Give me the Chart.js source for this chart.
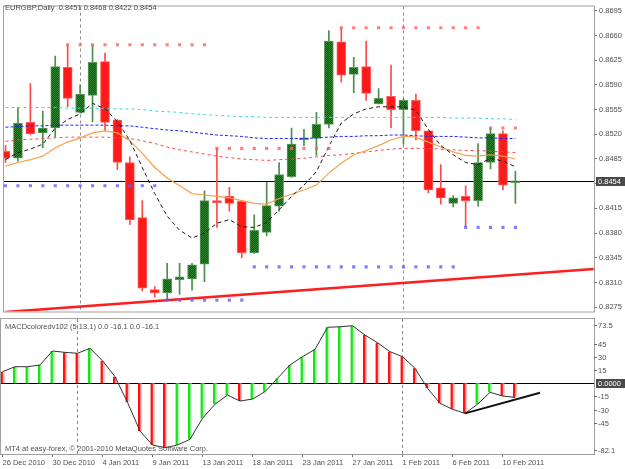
<!DOCTYPE html>
<html>
<head>
<meta charset="utf-8">
<title>EURGBP Daily</title>
<script src="https://cdn.jsdelivr.net/npm/chart.js@4.4.1/dist/chart.umd.min.js"></script>
<style>
    body { margin: 0; background: #fff; }
    #wrap { position: relative; width: 625px; height: 469px; overflow: hidden; background: #fff; }
    #wrap canvas { position: absolute; left: 0; }
    #priceChart { top: 0; }
    #macdChart { top: 318px; }
</style>
</head>
<body>
<div id="wrap">
    <canvas id="priceChart" width="625" height="318"></canvas>
    <canvas id="macdChart" width="625" height="151"></canvas>
</div>
<script>
var symbol = 'EURGBP';
var period = 'Daily';

var dates = [
    '26 Dec 2010', '27 Dec 2010', '28 Dec 2010', '29 Dec 2010', '30 Dec 2010', '31 Dec 2010',
    '2 Jan 2011', '3 Jan 2011', '4 Jan 2011', '5 Jan 2011', '6 Jan 2011', '7 Jan 2011',
    '9 Jan 2011', '10 Jan 2011', '11 Jan 2011', '12 Jan 2011', '13 Jan 2011', '14 Jan 2011',
    '16 Jan 2011', '17 Jan 2011', '18 Jan 2011', '19 Jan 2011', '20 Jan 2011', '21 Jan 2011',
    '23 Jan 2011', '24 Jan 2011', '25 Jan 2011', '26 Jan 2011', '27 Jan 2011', '28 Jan 2011',
    '30 Jan 2011', '31 Jan 2011', '1 Feb 2011', '2 Feb 2011', '3 Feb 2011', '4 Feb 2011',
    '6 Feb 2011', '7 Feb 2011', '8 Feb 2011', '9 Feb 2011', '10 Feb 2011', '11 Feb 2011'
];

var opens  = [0.8496, 0.8486, 0.8537, 0.8522, 0.8529, 0.8615, 0.8551, 0.8575, 0.8623, 0.8540, 0.8480, 0.8402, 0.8300, 0.8295, 0.8314, 0.8315, 0.8336, 0.8426, 0.8432, 0.8425, 0.8352, 0.8381, 0.8418, 0.8460, 0.8512, 0.8514, 0.8534, 0.8651, 0.8605, 0.8616, 0.8563, 0.8574, 0.8555, 0.8568, 0.8525, 0.8444, 0.8422, 0.8432, 0.8426, 0.8480, 0.8521, 0.8451];
var highs  = [0.8504, 0.8558, 0.8592, 0.8553, 0.8631, 0.8646, 0.8590, 0.8646, 0.8635, 0.8541, 0.8488, 0.8426, 0.8304, 0.8337, 0.8337, 0.8337, 0.8440, 0.8500, 0.8445, 0.8426, 0.8406, 0.8452, 0.8480, 0.8529, 0.8527, 0.8551, 0.8667, 0.8671, 0.8629, 0.8652, 0.8585, 0.8618, 0.8570, 0.8577, 0.8525, 0.8477, 0.8433, 0.8447, 0.8507, 0.8529, 0.8525, 0.8468];
var lows   = [0.8480, 0.8482, 0.8519, 0.8501, 0.8516, 0.8559, 0.8550, 0.8538, 0.8525, 0.8470, 0.8392, 0.8298, 0.8289, 0.8285, 0.8293, 0.8299, 0.8311, 0.8388, 0.8411, 0.8345, 0.8351, 0.8376, 0.8411, 0.8459, 0.8504, 0.8490, 0.8529, 0.8594, 0.8579, 0.8568, 0.8563, 0.8529, 0.8506, 0.8512, 0.8437, 0.8421, 0.8417, 0.8389, 0.8418, 0.8471, 0.8441, 0.8422];
var closes = [0.8486, 0.8536, 0.8521, 0.8529, 0.8616, 0.8571, 0.8577, 0.8622, 0.8537, 0.8480, 0.8399, 0.8302, 0.8295, 0.8315, 0.8318, 0.8335, 0.8426, 0.8423, 0.8422, 0.8352, 0.8384, 0.8419, 0.8463, 0.8506, 0.8515, 0.8534, 0.8652, 0.8604, 0.8615, 0.8578, 0.8571, 0.8555, 0.8568, 0.8525, 0.8441, 0.8430, 0.8430, 0.8426, 0.8480, 0.8521, 0.8448, 0.8454];

// moving averages
var maCyan   = [0.8558, 0.8558, 0.8558, 0.8558, 0.8558, 0.8557, 0.8557, 0.8557, 0.8557, 0.8556, 0.8556, 0.8555, 0.8553, 0.8552, 0.8551, 0.8549, 0.8548, 0.8547, 0.8546, 0.8545, 0.8545, 0.8544, 0.8544, 0.8544, 0.8544, 0.8544, 0.8544, 0.8544, 0.8544, 0.8544, 0.8544, 0.8544, 0.8544, 0.8544, 0.8544, 0.8544, 0.8543, 0.8543, 0.8543, 0.8542, 0.8542, 0.8541];
var maBlue   = [0.8530, 0.8531, 0.8532, 0.8532, 0.8533, 0.8533, 0.8533, 0.8533, 0.8533, 0.8532, 0.8532, 0.8530, 0.8528, 0.8526, 0.8525, 0.8523, 0.8521, 0.8519, 0.8518, 0.8517, 0.8515, 0.8514, 0.8514, 0.8514, 0.8514, 0.8515, 0.8516, 0.8517, 0.8517, 0.8518, 0.8518, 0.8519, 0.8519, 0.8518, 0.8517, 0.8517, 0.8517, 0.8516, 0.8515, 0.8515, 0.8514, 0.8514];
var maRed    = [0.8510, 0.8512, 0.8513, 0.8514, 0.8515, 0.8516, 0.8516, 0.8516, 0.8516, 0.8515, 0.8514, 0.8511, 0.8507, 0.8502, 0.8498, 0.8495, 0.8492, 0.8489, 0.8487, 0.8485, 0.8484, 0.8483, 0.8484, 0.8485, 0.8486, 0.8488, 0.8490, 0.8491, 0.8493, 0.8495, 0.8497, 0.8499, 0.8500, 0.8500, 0.8500, 0.8499, 0.8498, 0.8497, 0.8497, 0.8496, 0.8495, 0.8494];
var maOrange = [0.8475, 0.8480, 0.8484, 0.8489, 0.8501, 0.8509, 0.8515, 0.8522, 0.8525, 0.8522, 0.8511, 0.8493, 0.8473, 0.8458, 0.8447, 0.8436, 0.8434, 0.8432, 0.8430, 0.8426, 0.8422, 0.8421, 0.8429, 0.8435, 0.8441, 0.8448, 0.8465, 0.8479, 0.8491, 0.8497, 0.8504, 0.8512, 0.8517, 0.8516, 0.8509, 0.8502, 0.8495, 0.8490, 0.8489, 0.8491, 0.8489, 0.8485];
var maBlack  = [0.8484, 0.8494, 0.8499, 0.8506, 0.8529, 0.8541, 0.8549, 0.8564, 0.8556, 0.8538, 0.8511, 0.8473, 0.8436, 0.8404, 0.8384, 0.8373, 0.8380, 0.8394, 0.8399, 0.8389, 0.8388, 0.8395, 0.8413, 0.8432, 0.8448, 0.8467, 0.8503, 0.8536, 0.8549, 0.8556, 0.8559, 0.8559, 0.8559, 0.8554, 0.8527, 0.8504, 0.8491, 0.8480, 0.8477, 0.8486, 0.8482, 0.8474];

// support / resistance dots
var n = null;
var resLevel = [n, n, n, n, n, 0.8647, 0.8647, 0.8647, 0.8647, 0.8647, 0.8647, 0.8647, 0.8647, 0.8647, 0.8647, 0.8647, 0.8647, 0.8500, 0.8500, 0.8500, 0.8500, 0.8500, 0.8500, 0.8500, 0.8500, 0.8500, 0.8500, 0.8671, 0.8671, 0.8671, 0.8671, 0.8671, 0.8671, 0.8671, 0.8671, 0.8671, 0.8671, 0.8671, 0.8671, 0.8529, 0.8529, 0.8529];
var supLevel = [0.8447, 0.8447, 0.8447, 0.8447, 0.8447, 0.8447, 0.8447, 0.8447, 0.8447, 0.8447, 0.8447, 0.8447, 0.8447, 0.8285, 0.8285, 0.8285, 0.8285, 0.8285, 0.8285, 0.8285, 0.8332, 0.8332, 0.8332, 0.8332, 0.8332, 0.8332, 0.8332, 0.8332, 0.8332, 0.8332, 0.8332, 0.8332, 0.8332, 0.8332, 0.8332, 0.8332, 0.8332, 0.8388, 0.8388, 0.8388, 0.8388, 0.8388];

// trend line (bar index, price)
var trendX = [0, 47.3];
var trendY = [0.8268, 0.8329];

var priceTicks = [0.8695, 0.8660, 0.8625, 0.8590, 0.8555, 0.8520, 0.8485, 0.8450, 0.8415, 0.8380, 0.8345, 0.8310, 0.8275];

// MACD (5,13,1)
var macdName = 'MACDcoloredv102 (5,13,1)';
var macd = [13.3, 19.0, 19.0, 21.0, 37.0, 35.4, 34.4, 40.0, 25.9, 7.6, -21.8, -54.6, -70.6, -73.7, -70.6, -64.1, -40.0, -24.0, -13.4, -20.3, -18.0, -9.6, 5.7, 21.0, 30.5, 38.9, 64.1, 64.7, 65.9, 55.2, 46.5, 36.2, 30.5, 17.2, -5.7, -22.9, -29.7, -34.4, -24.0, -10.3, -14.5, -16.1];
var macdTicks = [73.5, 45, 30, 15, 0, -15, -30, -45, -82.1];
var macdTrendX = [37, 43];
var macdTrendY = [-34.4, -10.8];

var copyright = 'MT4 at easy-forex, \u00a9 2001-2010 MetaQuotes Software Corp.';

var FONT = '"Liberation Sans", Arial, sans-serif';
var TXT = '#505050';
var xMin = -0.12, xMax = 47.32;

var idx = dates.map(function (d, i) { return i; });
var last = dates.length - 1;

function pts(arr) {
    return arr.map(function (v, i) { return { x: i, y: v }; });
}

function greenPattern() {
    var c = document.createElement('canvas');
    c.width = 2; c.height = 2;
    var g = c.getContext('2d');
    g.fillStyle = '#125212';
    g.fillRect(0, 0, 2, 2);
    g.fillStyle = '#338533';
    g.fillRect(0, 0, 1, 1);
    g.fillRect(1, 1, 1, 1);
    return g.createPattern(c, 'repeat');
}

// first bar of each month gets a separator
var monthStarts = idx.filter(function (i) {
    return i > 0 && dates[i].split(' ')[1] !== dates[i - 1].split(' ')[1];
});
var dateTicks = idx.filter(function (i) { return i % 4 === 0; });

function drawSeparators(chart) {
    var a = chart.chartArea, ctx = chart.ctx, xs = chart.scales.x;
    ctx.save();
    ctx.strokeStyle = '#8a8a8a';
    ctx.lineWidth = 1;
    ctx.setLineDash([3, 3]);
    monthStarts.forEach(function (i) {
        var x = Math.floor(xs.getPixelForValue(i)) + 0.5;
        ctx.beginPath();
        ctx.moveTo(x, a.top);
        ctx.lineTo(x, a.bottom);
        ctx.stroke();
    });
    ctx.restore();
}

function drawHLine(chart, value) {
    var a = chart.chartArea, ctx = chart.ctx;
    var y = Math.round(chart.scales.y.getPixelForValue(value)) + 0.5;
    ctx.save();
    ctx.strokeStyle = '#000';
    ctx.lineWidth = 1;
    ctx.beginPath();
    ctx.moveTo(a.left, y);
    ctx.lineTo(a.right, y);
    ctx.stroke();
    ctx.restore();
}

function drawFrame(chart) {
    var a = chart.chartArea, ctx = chart.ctx;
    ctx.save();
    ctx.strokeStyle = '#a0a0a0';
    ctx.lineWidth = 1;
    ctx.strokeRect(a.left - 0.5, a.top - 0.5, a.right - a.left + 1, a.bottom - a.top + 1);
    ctx.restore();
}

function drawValueBox(chart, value, text) {
    var a = chart.chartArea, ctx = chart.ctx;
    var y = Math.round(chart.scales.y.getPixelForValue(value));
    ctx.save();
    ctx.fillStyle = '#4a4a4a';
    ctx.fillRect(a.right + 2, y - 4, 31, 9);
    ctx.fillStyle = '#fff';
    ctx.font = '7.5px ' + FONT;
    ctx.textBaseline = 'middle';
    ctx.fillText(text, a.right + 4, y + 0.5);
    ctx.restore();
}

function drawText(chart, text, x, y) {
    var ctx = chart.ctx;
    ctx.save();
    ctx.fillStyle = TXT;
    ctx.font = '7.5px ' + FONT;
    ctx.textBaseline = 'middle';
    ctx.fillText(text, x, y);
    ctx.restore();
}

var isUp = idx.map(function (i) { return closes[i] >= opens[i]; });
var greenFill = greenPattern();

var pricePlugin = {
    id: 'pricePanel',
    beforeDatasetsDraw: function (chart) {
        drawSeparators(chart);
        drawHLine(chart, closes[last]);
    },
    afterDraw: function (chart) {
        drawFrame(chart);
        var ohlc = [opens[last], highs[last], lows[last], closes[last]].map(function (v) { return v.toFixed(4); });
        drawText(chart, symbol + ',' + period + '  ' + ohlc.join(' '), 5, 8);
        drawValueBox(chart, closes[last], closes[last].toFixed(4));
    }
};

function lineSet(data, color, dash, width) {
    return {
        type: 'line',
        data: pts(data),
        borderColor: color,
        borderWidth: width || 1,
        borderDash: dash || [],
        pointRadius: 0,
        tension: 0,
        order: 1
    };
}

function dotSet(data, color) {
    return {
        type: 'line',
        data: pts(data),
        showLine: false,
        pointStyle: 'rect',
        pointRadius: 2.2,
        pointBackgroundColor: color,
        pointBorderWidth: 0,
        order: 0
    };
}

var priceChart = new Chart(document.getElementById('priceChart'), {
    type: 'bar',
    data: {
        datasets: [
            dotSet(resLevel, 'rgba(255,95,95,0.8)'),
            dotSet(supLevel, 'rgba(95,95,255,0.8)'),
            {
                type: 'line',
                data: trendX.map(function (x, k) { return { x: x, y: trendY[k] }; }),
                borderColor: '#ff1e1e',
                borderWidth: 2.5,
                pointRadius: 0,
                order: 1
            },
            lineSet(maBlack, '#1a1a1a', [4, 3]),
            lineSet(maOrange, '#f7a04a', [], 1.2),
            lineSet(maRed, '#ff4848', [3, 3]),
            lineSet(maBlue, '#2020ff', [3, 2]),
            lineSet(maCyan, '#30e0e0', [3, 3]),
            {
                type: 'bar',
                data: idx.map(function (i) { return { x: i, y: [opens[i], closes[i]] }; }),
                backgroundColor: idx.map(function (i) { return isUp[i] ? greenFill : '#ff1a1a'; }),
                borderColor: idx.map(function (i) { return isUp[i] ? '#5c9c5c' : '#ff5a5a'; }),
                borderWidth: 1,
                borderSkipped: false,
                barThickness: 9,
                grouped: false,
                order: 2
            },
            {
                type: 'bar',
                data: idx.map(function (i) { return { x: i, y: [lows[i], highs[i]] }; }),
                backgroundColor: idx.map(function (i) { return isUp[i] ? '#4c8f4c' : '#ff4a4a'; }),
                barThickness: 1,
                grouped: false,
                order: 3
            }
        ]
    },
    options: {
        responsive: false,
        animation: false,
        devicePixelRatio: 1,
        layout: { padding: { left: 1, top: 1, right: 0, bottom: 1 } },
        plugins: { legend: { display: false }, tooltip: { enabled: false } },
        scales: {
            x: { type: 'linear', min: xMin, max: xMax, offset: false, display: false },
            y: {
                position: 'right',
                min: 0.82688,
                max: 0.87012,
                afterBuildTicks: function (s) {
                    s.ticks = priceTicks.map(function (v) { return { value: v }; });
                },
                afterFit: function (s) { s.width = 31; },
                ticks: {
                    color: TXT,
                    padding: 2,
                    font: { family: FONT, size: 7.5 },
                    callback: function (v) { return v.toFixed(4); }
                },
                grid: { drawOnChartArea: false, tickLength: 3, color: '#707070' },
                border: { color: '#a0a0a0' }
            }
        }
    },
    plugins: [pricePlugin]
});

var macdUp = idx.map(function (i) { return i > 0 && macd[i] >= macd[i - 1]; });

var macdPlugin = {
    id: 'macdPanel',
    beforeDatasetsDraw: function (chart) {
        drawSeparators(chart);
        drawHLine(chart, 0);
    },
    afterDraw: function (chart) {
        var a = chart.chartArea, ctx = chart.ctx, ys = chart.scales.y;
        drawFrame(chart);
        var v = macd[last];
        var up = macdUp[last] ? v : 0, down = macdUp[last] ? 0 : v;
        drawText(chart, macdName + ' ' + [up, down, up, down].map(function (x) { return x.toFixed(1); }).join(' '), 5, 8.5);
        drawText(chart, copyright, 5, 131);
        ctx.save();
        ctx.fillStyle = TXT;
        ctx.strokeStyle = '#707070';
        ctx.font = '7.5px ' + FONT;
        ctx.textBaseline = 'middle';
        macdTicks.forEach(function (t) {
            if (t === 0) return;
            var y = ys.getPixelForValue(t);
            y = Math.round(Math.min(Math.max(y, a.top + 6), a.bottom - 4));
            ctx.beginPath();
            ctx.moveTo(a.right, y + 0.5);
            ctx.lineTo(a.right + 3, y + 0.5);
            ctx.stroke();
            ctx.fillText(String(t), a.right + 4, y + 0.5);
        });
        ctx.restore();
        drawValueBox(chart, 0, (0).toFixed(4));
    }
};

var macdChart = new Chart(document.getElementById('macdChart'), {
    type: 'bar',
    data: {
        datasets: [
            {
                type: 'line',
                data: macdTrendX.map(function (x, k) { return { x: x, y: macdTrendY[k] }; }),
                borderColor: '#111',
                borderWidth: 2,
                pointRadius: 0,
                order: 0
            },
            {
                type: 'line',
                data: pts(macd),
                borderColor: '#333',
                borderWidth: 1,
                pointRadius: 0,
                tension: 0,
                order: 1
            },
            {
                type: 'bar',
                data: pts(macd),
                backgroundColor: idx.map(function (i) { return macdUp[i] ? '#14e614' : '#ff1010'; }),
                borderColor: idx.map(function (i) { return macdUp[i] ? '#bff5bf' : '#f8c0c0'; }),
                borderWidth: { left: 0, right: 2, top: 0, bottom: 0 },
                borderSkipped: false,
                barThickness: 4,
                grouped: false,
                order: 2
            }
        ]
    },
    options: {
        responsive: false,
        animation: false,
        devicePixelRatio: 1,
        layout: { padding: { left: 1, top: 1, right: 0, bottom: 0 } },
        plugins: { legend: { display: false }, tooltip: { enabled: false } },
        scales: {
            x: {
                type: 'linear',
                min: xMin,
                max: xMax,
                offset: false,
                afterBuildTicks: function (s) {
                    s.ticks = dateTicks.map(function (v) { return { value: v }; });
                },
                afterFit: function (s) { s.height = 15; },
                ticks: {
                    align: 'start',
                    maxRotation: 0,
                    autoSkip: false,
                    padding: 1,
                    color: TXT,
                    font: { family: FONT, size: 7.5 },
                    callback: function (v) { return dates[v]; }
                },
                grid: { offset: false, drawOnChartArea: false, tickLength: 3, color: '#707070' },
                border: { color: '#a0a0a0' }
            },
            y: {
                position: 'right',
                min: -80.9,
                max: 73.6,
                afterFit: function (s) { s.width = 31; },
                ticks: { display: false },
                grid: { display: false },
                border: { color: '#a0a0a0' }
            }
        }
    },
    plugins: [macdPlugin]
});
</script>
</body>
</html>
